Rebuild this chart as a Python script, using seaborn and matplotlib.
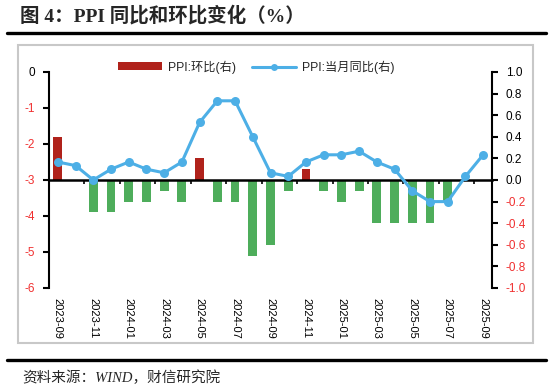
import numpy as np
import pandas as pd
import matplotlib
matplotlib.use("Agg")
import matplotlib.pyplot as plt
import seaborn as sns
from matplotlib.patches import Patch, Rectangle
from matplotlib.lines import Line2D

months = ["2023-09", "2023-10", "2023-11", "2023-12", "2024-01", "2024-02", "2024-03",
          "2024-04", "2024-05", "2024-06", "2024-07", "2024-08", "2024-09", "2024-10",
          "2024-11", "2024-12", "2025-01", "2025-02", "2025-03", "2025-04", "2025-05",
          "2025-06", "2025-07", "2025-08", "2025-09"]
ppi_yoy = [-2.5, -2.6, -3.0, -2.7, -2.5, -2.7, -2.8, -2.5, -1.4, -0.8, -0.8, -1.8, -2.8,
           -2.9, -2.5, -2.3, -2.3, -2.2, -2.5, -2.7, -3.3, -3.6, -3.6, -2.9, -2.3]
ppi_mom = [0.4, 0.0, -0.3, -0.3, -0.2, -0.2, -0.1, -0.2, 0.2, -0.2, -0.2, -0.7, -0.6,
           -0.1, 0.1, -0.1, -0.2, -0.1, -0.4, -0.4, -0.4, -0.4, -0.2, 0.0, 0.0]
left_ticks = [0, -1, -2, -3, -4, -5, -6]
right_ticks = [1.0, 0.8, 0.6, 0.4, 0.2, 0.0, -0.2, -0.4, -0.6, -0.8, -1.0]
label_mom = "PPI:环比(右)"
label_yoy = "PPI:当月同比(右)"
title = "图 4：PPI 同比和环比变化（%）"
source = "资料来源：WIND，财信研究院"

RED = "#B0221B"
GREEN = "#4EAD5B"
BLUE = "#4DAFE6"
TICKRED = "#F03030"

sns.set_theme(style="white")
plt.rcParams['font.family'] = ['Liberation Sans', 'Noto Sans CJK SC', 'DejaVu Sans']

fig = plt.figure(figsize=(5.5, 3.91), dpi=100)
ax = fig.add_axes([49 / 550, 1 - 288 / 391, (492 - 49) / 550, (288 - 72) / 391])
ax2 = ax.twinx()

df = pd.DataFrame({"idx": np.arange(len(months)), "month": months,
                   "mom": ppi_mom, "yoy": ppi_yoy})
df["sign"] = np.where(df["mom"] > 0, "pos", "neg")

sns.barplot(data=df, x="idx", y="mom", hue="sign", palette={"pos": RED, "neg": GREEN},
            dodge=False, width=0.5, ax=ax2, legend=False, saturation=1, linewidth=0)
sns.lineplot(data=df, x="idx", y="yoy", ax=ax, color=BLUE, marker="o", markersize=6.5,
             linewidth=2.2, markeredgewidth=0)

ax.set_zorder(ax2.get_zorder() + 1)
ax.patch.set_visible(False)

ax.set_xlim(-0.5, len(months) - 0.5)
ax.set_ylim(-6, 0)
ax2.set_ylim(-1, 1)
ax.set_xlabel("")
ax.set_ylabel("")
ax2.set_xlabel("")
ax2.set_ylabel("")

# x labels at bottom
ax.set_xticks(df["idx"][::2])
ax.set_xticklabels(df["month"][::2], rotation=-90, fontsize=8, color="black")
ax.tick_params(axis="x", length=0, pad=7)

# left axis
ax.set_yticks(left_ticks)
ax.set_yticklabels([str(v) for v in left_ticks], fontsize=8.5)
for lab, v in zip(ax.get_yticklabels(), left_ticks):
    lab.set_color(TICKRED if v < 0 else "black")
ax.tick_params(axis="y", direction="out", length=4, width=1.5, color="black", pad=6, left=True)

# right axis
ax2.set_yticks(right_ticks)
ax2.set_yticklabels([f"{abs(v):.1f}" if v == 0 else f"{v:.1f}" for v in right_ticks], fontsize=8.5)
for lab, v in zip(ax2.get_yticklabels(), right_ticks):
    lab.set_color(TICKRED if v < 0 else "black")
ax2.tick_params(axis="y", direction="out", length=4, width=1.5, color="black", pad=6, right=True)

for s in ["top", "right", "bottom"]:
    ax.spines[s].set_visible(False)
ax.spines["left"].set_visible(True)
ax.spines["left"].set_color("black")
ax.spines["left"].set_linewidth(1.5)
for s in ["top", "left", "bottom"]:
    ax2.spines[s].set_visible(False)
ax2.spines["right"].set_visible(True)
ax2.spines["right"].set_color("black")
ax2.spines["right"].set_linewidth(1.5)

# middle zero axis with boundary ticks
sec = ax.secondary_xaxis(0.5)
sec.set_alignment("bottom")
sec.set_xticks(np.arange(1.5, len(months) - 1, 2))
sec.set_xticklabels([])
sec.tick_params(axis="x", direction="out", length=3, width=1.2, color="black")
sec.spines["bottom"].set_visible(True)
sec.spines["bottom"].set_color("black")
sec.spines["bottom"].set_linewidth(1.8)
sec.spines["top"].set_visible(False)

# legend
handles = [Patch(facecolor=RED, edgecolor="none", label=label_mom),
           Line2D([0], [0], color=BLUE, lw=2.2, marker="o", markersize=5, markeredgewidth=0,
                  label=label_yoy)]
fig.legend(handles=handles, loc="center", bbox_to_anchor=(256 / 550, 1 - 67 / 391), ncol=2,
           frameon=False, fontsize=8.8, handlelength=3.6, handleheight=0.6,
           columnspacing=1.3, handletextpad=0.5)

# frame and decorations
fig.add_artist(Rectangle((18 / 550, 1 - 343 / 391), (533 - 18) / 550, (343 - 45) / 391,
                         transform=fig.transFigure, fill=False, edgecolor="#C8C8C8", lw=1.5))
fig.add_artist(Line2D([7 / 550, 546 / 550], [1 - 32.5 / 391] * 2, transform=fig.transFigure,
                      color="black", lw=2.4))
fig.add_artist(Line2D([7 / 550, 546 / 550], [1 - 360 / 391] * 2, transform=fig.transFigure,
                      color="black", lw=2.4))
fig.text(20 / 550, 1 - 16 / 391, title, fontsize=14, fontweight="bold", va="center", ha="left",
         family=['Liberation Serif', 'Noto Sans CJK SC', 'DejaVu Sans'])
fig.text(22 / 550, 1 - 378 / 391, source, fontsize=10.5, va="center", ha="left",
         family=['Liberation Serif', 'Noto Sans CJK SC', 'DejaVu Sans'], style="italic")

fig.savefig("out.png", dpi=100)
